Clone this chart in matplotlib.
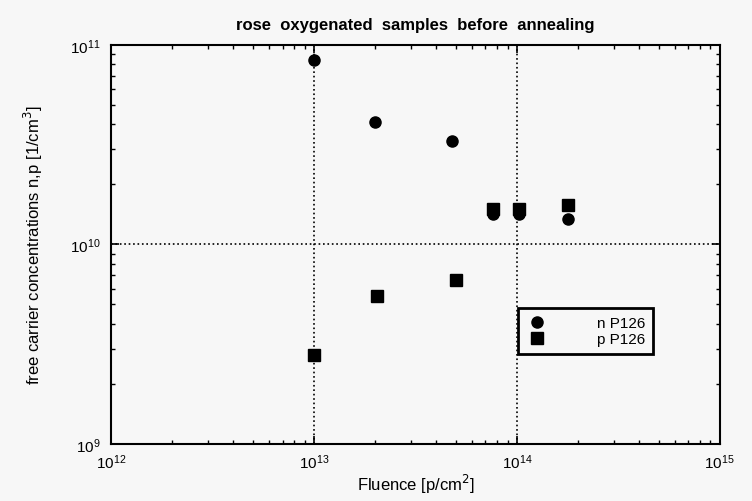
import numpy as np
import matplotlib
matplotlib.use("Agg")
from matplotlib import pyplot as plt
from matplotlib.ticker import LogLocator

plt.rcParams['font.family'] = ['Liberation Sans', 'DejaVu Sans']

# data
fluence_n = [1.0e13, 2.0e13, 4.8e13, 7.6e13, 1.03e14, 1.78e14]
conc_n = [8.4e10, 4.1e10, 3.3e10, 1.42e10, 1.42e10, 1.34e10]
fluence_p = [1.0e13, 2.05e13, 5.0e13, 7.6e13, 1.03e14, 1.78e14]
conc_p = [2.8e9, 5.5e9, 6.6e9, 1.51e10, 1.51e10, 1.58e10]

fig = plt.figure(figsize=(7.52, 5.02), dpi=100)
fig.patch.set_facecolor('#f7f7f7')
ax = fig.add_axes([0.148, 0.114, 0.809, 0.794])
ax.set_facecolor('#f7f7f7')

ax.plot(fluence_n, conc_n, 'o', color='black', ms=8, label='n P126')
ax.plot(fluence_p, conc_p, 's', color='black', ms=8, label='p P126')

ax.set_xscale('log')
ax.set_yscale('log')
ax.set_xlim(1e12, 1e15)
ax.set_ylim(1e9, 1e11)

ax.xaxis.set_major_locator(LogLocator(base=10, numticks=10))
ax.yaxis.set_major_locator(LogLocator(base=10, numticks=10))
ax.tick_params(which='both', direction='in', top=True, right=True)
ax.tick_params(which='major', length=6, width=1.2, labelsize=11)
ax.tick_params(which='minor', length=3, width=1)
ax.tick_params(axis='x', pad=6)
ax.tick_params(axis='y', pad=8)

ax.grid(which='major', ls=':', color='black', lw=1.2)
for s in ax.spines.values():
    s.set_linewidth(1.5)

ax.set_title('rose  oxygenated  samples  before  annealing', fontsize=12,
             fontweight='bold', pad=12)
ax.set_xlabel('Fluence [p/cm$^2$]', fontsize=12, labelpad=1)
ax.set_ylabel('free carrier concentrations n,p [1/cm$^3$]', fontsize=12,
              labelpad=18)

leg = ax.legend(loc='upper left', bbox_to_anchor=(0.668, 0.34), fontsize=11,
                frameon=True, fancybox=False, shadow=False, handletextpad=3.2,
                borderpad=0.5, labelspacing=0.15, borderaxespad=0,
                handlelength=1.5)
leg.get_frame().set_edgecolor('black')
leg.get_frame().set_linewidth(2)
leg.get_frame().set_facecolor('#f7f7f7')
leg.get_frame().set_alpha(1)

plt.savefig('out.png', dpi=100, facecolor=fig.get_facecolor())
